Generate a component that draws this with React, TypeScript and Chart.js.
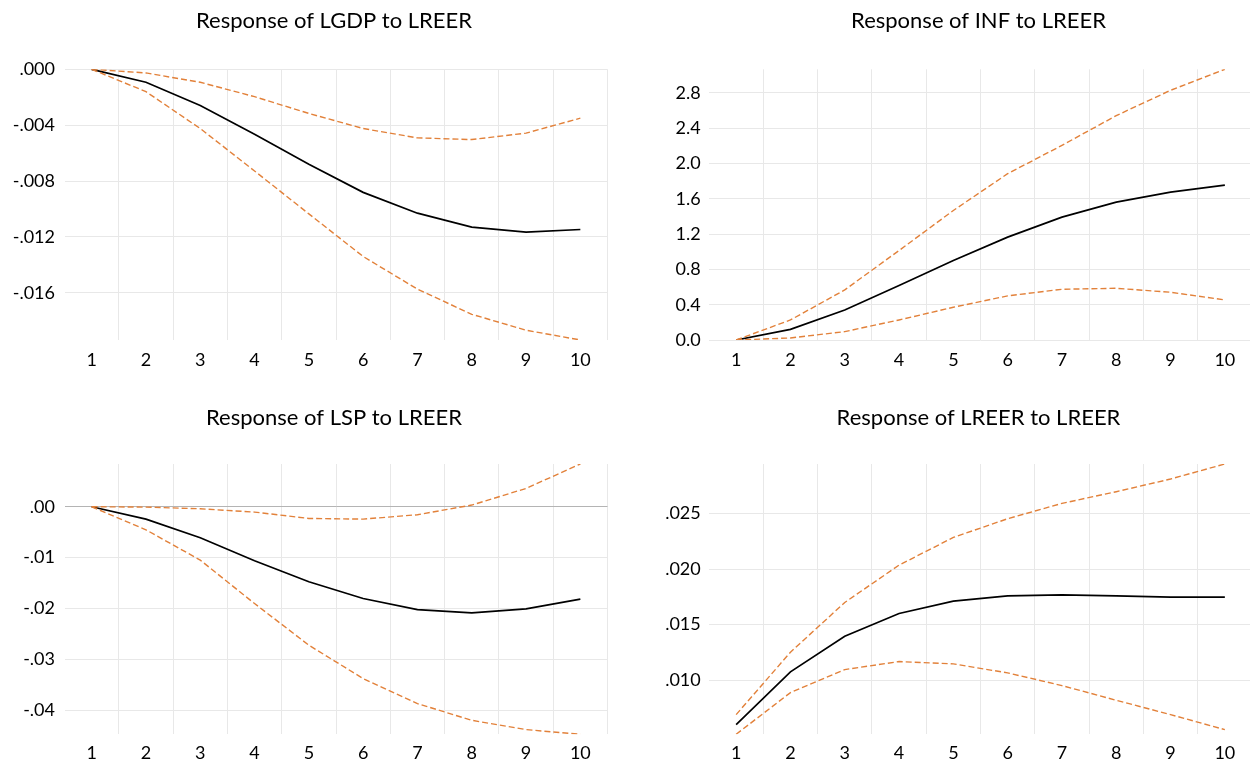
import React, { useEffect, useRef } from "react";
import { Chart, registerables } from "chart.js";

Chart.register(...registerables);

// ---------- data ----------
const horizons = ["1", "2", "3", "4", "5", "6", "7", "8", "9", "10"];

const lgdpResp = [0, -0.00093, -0.00259, -0.00465, -0.0068, -0.00881, -0.0103, -0.0113, -0.01166, -0.01147];
const lgdpUpper = [0, -0.00026, -0.00093, -0.00196, -0.00316, -0.00424, -0.00491, -0.00503, -0.00457, -0.0035];
const lgdpLower = [0, -0.0016, -0.00424, -0.00728, -0.01035, -0.0134, -0.01574, -0.01754, -0.01868, -0.01938];
const lgdpTicks = [0, -0.004, -0.008, -0.012, -0.016];
const lgdpTickLabels = [".000", "-.004", "-.008", "-.012", "-.016"];

const infResp = [0, 0.121, 0.34, 0.617, 0.9, 1.166, 1.393, 1.563, 1.676, 1.756];
const infUpper = [0, 0.227, 0.568, 1.014, 1.468, 1.885, 2.206, 2.543, 2.83, 3.068];
const infLower = [0, 0.023, 0.095, 0.227, 0.371, 0.5, 0.575, 0.586, 0.541, 0.454];
const infTicks = [0, 0.4, 0.8, 1.2, 1.6, 2.0, 2.4, 2.8];
const infTickLabels = ["0.0", "0.4", "0.8", "1.2", "1.6", "2.0", "2.4", "2.8"];

const lspResp = [0, -0.00243, -0.0061, -0.01062, -0.01475, -0.01803, -0.0202, -0.02085, -0.02007, -0.01816];
const lspUpper = [0, -0.00007, -0.0004, -0.00105, -0.0023, -0.00243, -0.00157, 0.00033, 0.0036, 0.0084];
const lspLower = [0, -0.00453, -0.01049, -0.01902, -0.02721, -0.03377, -0.03869, -0.04197, -0.0438, -0.04472];
const lspTicks = [0, -0.01, -0.02, -0.03, -0.04];
const lspTickLabels = [".00", "-.01", "-.02", "-.03", "-.04"];

const lreerResp = [0.00601, 0.01075, 0.01396, 0.016, 0.01711, 0.01759, 0.01768, 0.01759, 0.01747, 0.01747];
const lreerUpper = [0.00691, 0.01252, 0.01699, 0.02035, 0.02284, 0.02452, 0.0259, 0.02695, 0.02809, 0.02944];
const lreerLower = [0.00514, 0.00889, 0.01096, 0.01168, 0.01147, 0.01066, 0.00952, 0.0082, 0.00691, 0.00556];
const lreerTicks = [0.01, 0.015, 0.02, 0.025];
const lreerTickLabels = [".010", ".015", ".020", ".025"];

// ---------- styles ----------
const FONT = "Lato, 'Open Sans', sans-serif";
const ORANGE = "#E2813A";
const GRID = "#e8e8e8";
const ZERO = "#b4b4b4";

type PanelProps = {
  title: string;
  resp: number[];
  upper: number[];
  lower: number[];
  tickValues: number[];
  tickLabels: string[];
  left: number;
  top: number;
  width: number;
  height: number;
  yAxisWidth: number;
  rightSpacer: number;
  xAxisHeight: number;
  titlePadTop: number;
  titlePadBottom: number;
  yTickPad: number;
  xTickPad: number;
  zeroLine: boolean;
};

function Panel(p: PanelProps) {
  const ref = useRef<HTMLCanvasElement | null>(null);
  useEffect(() => {
    if (!ref.current) return;
    const all = [...p.resp, ...p.upper, ...p.lower];
    const yMin = Math.min(...all);
    const yMax = Math.max(...all);
    const nCat = horizons.length;
    const dashed = (data: number[]) => ({
      data,
      borderColor: ORANGE,
      borderWidth: 1.4,
      borderDash: [6, 3],
      pointRadius: 0,
      tension: 0,
      fill: false,
      yAxisID: "y",
    });
    const chart = new Chart(ref.current, {
      type: "line",
      data: {
        labels: horizons,
        datasets: [
          dashed(p.upper),
          dashed(p.lower),
          {
            data: p.resp,
            borderColor: "#000000",
            borderWidth: 1.7,
            pointRadius: 0,
            tension: 0,
            fill: false,
            yAxisID: "y",
          },
        ],
      },
      options: {
        animation: false,
        responsive: false,
        devicePixelRatio: 1,
        events: [],
        layout: { padding: 0 },
        plugins: {
          legend: { display: false },
          tooltip: { enabled: false },
          title: {
            display: true,
            text: p.title,
            color: "#000000",
            font: { family: FONT, size: 22, weight: "normal", lineHeight: 1.2 },
            padding: { top: p.titlePadTop, bottom: p.titlePadBottom },
          },
        },
        scales: {
          x: {
            type: "category",
            offset: true,
            border: { display: false },
            grid: {
              offset: true,
              drawTicks: false,
              lineWidth: 1,
              color: (ctx: any) =>
                ctx.index === 0 || ctx.index >= nCat ? "rgba(0,0,0,0)" : GRID,
            },
            ticks: {
              autoSkip: false,
              maxRotation: 0,
              padding: p.xTickPad,
              color: "#000000",
              font: { family: FONT, size: 18 },
            },
            afterFit: (scale: any) => {
              scale.height = p.xAxisHeight;
            },
          },
          y: {
            type: "linear",
            position: "left",
            min: yMin,
            max: yMax,
            border: { display: false },
            grid: {
              drawTicks: false,
              lineWidth: 1,
              color: (ctx: any) =>
                p.zeroLine && ctx.tick && Math.abs(ctx.tick.value) < 1e-12 ? ZERO : GRID,
            },
            ticks: {
              padding: p.yTickPad,
              color: "#000000",
              font: { family: FONT, size: 18 },
              callback: (value: any) => {
                const i = p.tickValues.findIndex((v) => Math.abs(v - Number(value)) < 1e-9);
                return i >= 0 ? p.tickLabels[i] : "";
              },
            },
            afterBuildTicks: (scale: any) => {
              scale.ticks = p.tickValues.map((v) => ({ value: v }));
            },
            afterFit: (scale: any) => {
              scale.width = p.yAxisWidth;
            },
          },
          spacer: {
            type: "linear",
            position: "right",
            display: true,
            border: { display: false },
            grid: { display: false, drawTicks: false },
            ticks: { display: false },
            afterFit: (scale: any) => {
              scale.width = p.rightSpacer;
            },
          },
        },
      },
    } as any);
    return () => chart.destroy();
  }, []);
  return (
    <div style={{ position: "absolute", left: p.left, top: p.top, width: p.width, height: p.height }}>
      <canvas ref={ref} width={p.width} height={p.height} style={{ width: p.width, height: p.height, display: "block" }} />
    </div>
  );
}

export default function App() {
  // left column: plot area x 64.5..607.5, title centred at 334
  const leftCol = { left: 0, width: 668, yAxisWidth: 64.5, rightSpacer: 60.5, yTickPad: 9.5 };
  // right column: plot area x 709..1252, title centred at 978.5
  const rightCol = { left: 655, width: 647, yAxisWidth: 54, rightSpacer: 50, yTickPad: 8.3 };
  const topRow = { top: 0, height: 385, xAxisHeight: 45, titlePadTop: 8, titlePadBottom: 34.9, xTickPad: 9 };
  const botRow = { top: 395, height: 368, xAxisHeight: 28.7, titlePadTop: 10, titlePadBottom: 32.6, xTickPad: 8 };
  return (
    <div
      style={{
        position: "absolute",
        left: 0,
        top: 0,
        width: 1250,
        height: 763,
        overflow: "hidden",
        background: "#ffffff",
      }}
    >
      <Panel
        title="Response of LGDP to LREER"
        resp={lgdpResp}
        upper={lgdpUpper}
        lower={lgdpLower}
        tickValues={lgdpTicks}
        tickLabels={lgdpTickLabels}
        zeroLine={false}
        {...leftCol}
        {...topRow}
      />
      <Panel
        title="Response of INF to LREER"
        resp={infResp}
        upper={infUpper}
        lower={infLower}
        tickValues={infTicks}
        tickLabels={infTickLabels}
        zeroLine={false}
        {...rightCol}
        {...topRow}
      />
      <Panel
        title="Response of LSP to LREER"
        resp={lspResp}
        upper={lspUpper}
        lower={lspLower}
        tickValues={lspTicks}
        tickLabels={lspTickLabels}
        zeroLine={true}
        {...leftCol}
        {...botRow}
      />
      <Panel
        title="Response of LREER to LREER"
        resp={lreerResp}
        upper={lreerUpper}
        lower={lreerLower}
        tickValues={lreerTicks}
        tickLabels={lreerTickLabels}
        zeroLine={false}
        {...rightCol}
        {...botRow}
      />
    </div>
  );
}
